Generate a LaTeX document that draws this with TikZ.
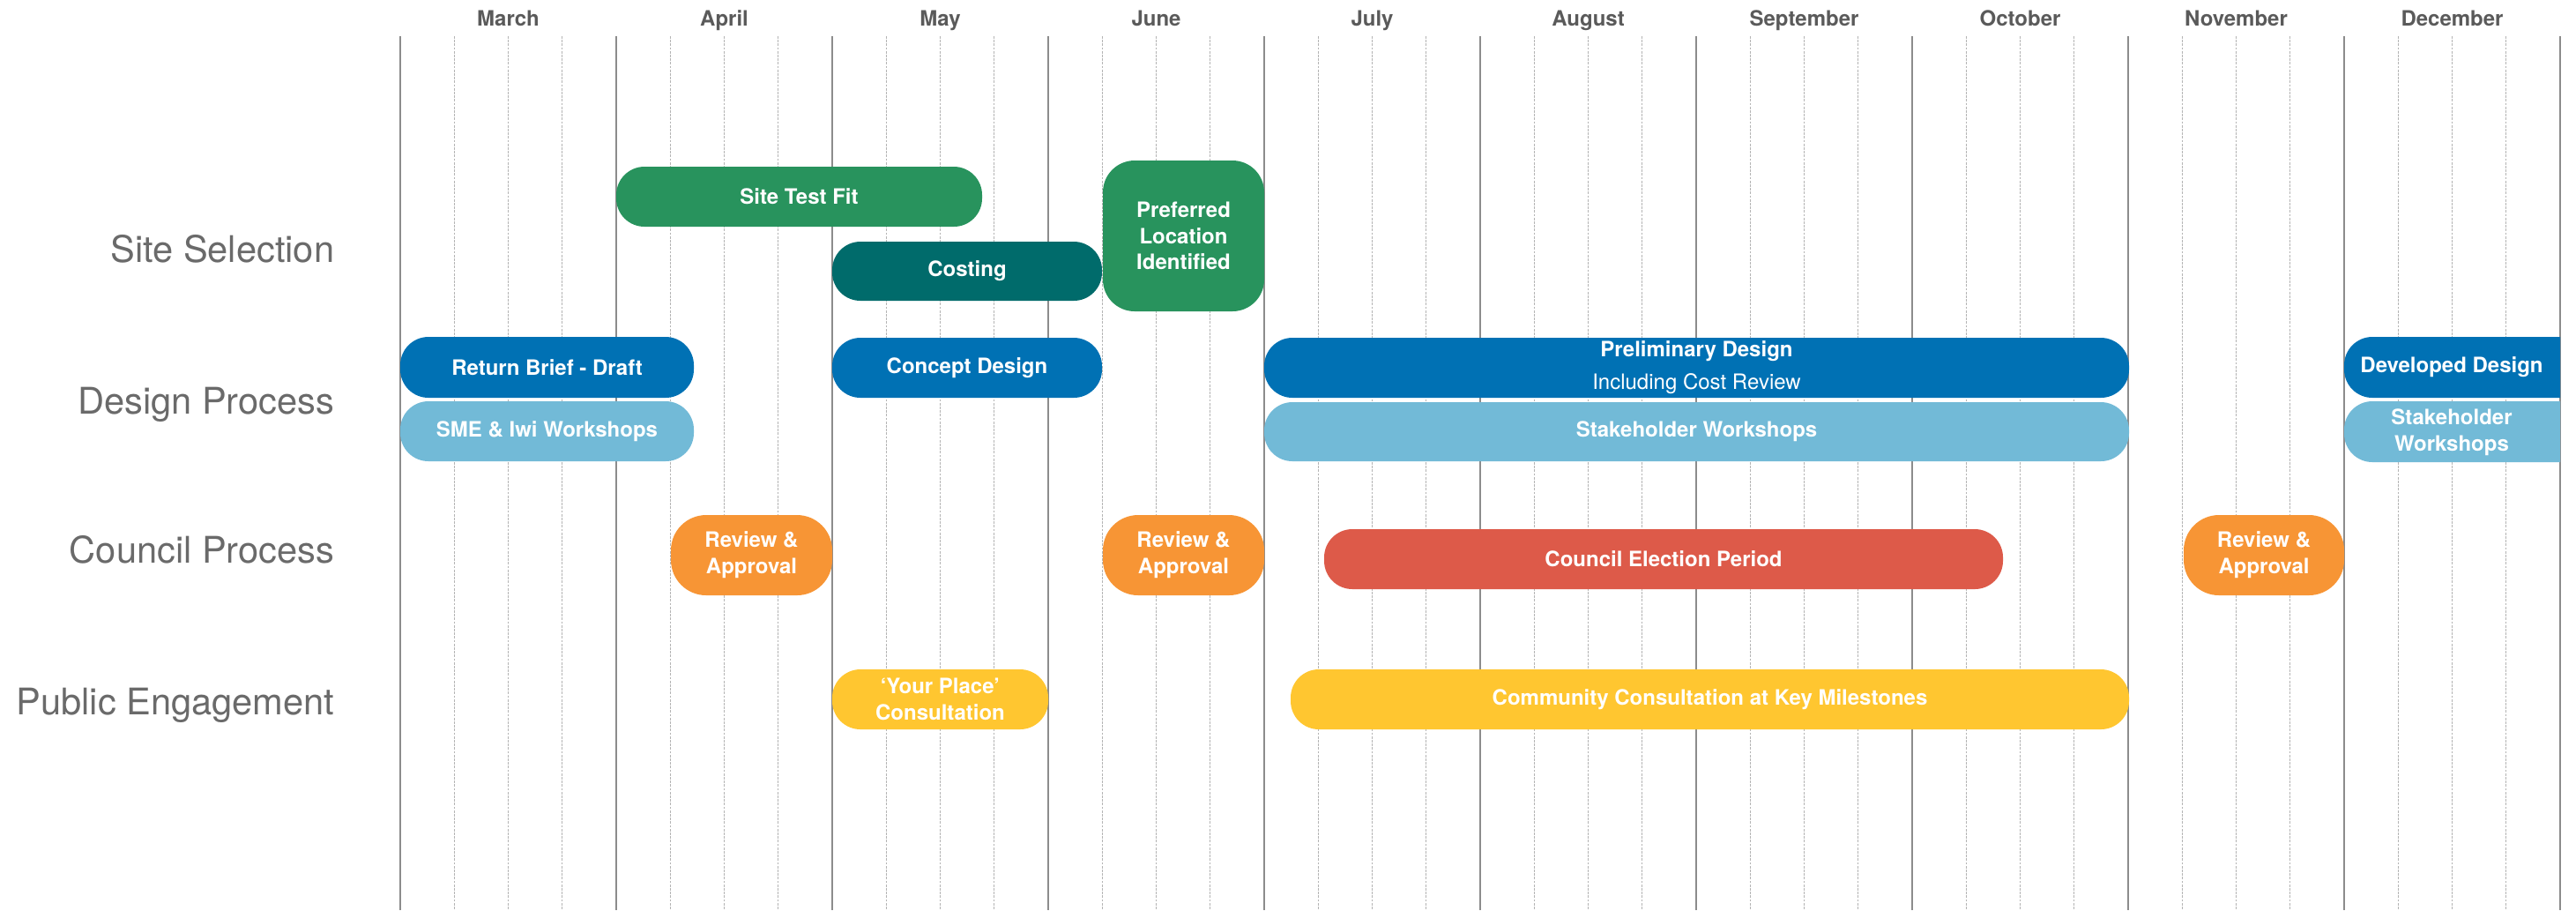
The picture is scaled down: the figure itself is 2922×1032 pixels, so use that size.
\documentclass[tikz,border=0pt]{standalone}
\usepackage{fontspec}
\setmainfont{TeX Gyre Heros}
\definecolor{cgreen}{HTML}{28935D}
\definecolor{cteal}{HTML}{006B6B}
\definecolor{cblue}{HTML}{0071B4}
\definecolor{clblue}{HTML}{72BAD7}
\definecolor{corange}{HTML}{F79535}
\definecolor{cred}{HTML}{DD5A49}
\definecolor{cyellow}{HTML}{FFC630}
\definecolor{cgrid}{HTML}{8C8C8C}
\definecolor{cqgrid}{HTML}{B4B4B4}
\definecolor{clabel}{HTML}{6A6A6A}
\definecolor{cmonth}{HTML}{5A5A5A}
% \gbar{x1}{y1}{x2}{y2}{name}{style}{text}
\newcommand\gbar[7]{\node[#6, minimum width={(#3-#1)*0.25pt}, minimum height={(#4-#2)*0.25pt}]
  (#5) at ({(#1+#3)/2},{(#2+#4)/2}) {#7};}
\begin{document}
\begin{tikzpicture}[x=0.25pt,y=-0.25pt,
  monthline/.style={draw=cgrid, line width=0.35pt},
  qline/.style={draw=cqgrid, line width=0.22pt, dash pattern=on 0.7pt off 0.35pt},
  monthlbl/.style={anchor=base, text=cmonth, font=\fontsize{6}{7}\selectfont\bfseries, inner sep=0pt},
  rowlbl/.style={anchor=base east, text=clabel, font=\fontsize{10.4}{12}\selectfont, inner sep=0pt},
  bar/.style={inner sep=0pt, rounded corners=8pt, text=white, align=center,
    font=\fontsize{6}{7.5}\selectfont\bfseries},
  tallbar/.style={bar, rounded corners=10pt},
  txt/.style={inner sep=0pt, text=white, align=center, font=\fontsize{6}{7.5}\selectfont\bfseries}]
\useasboundingbox (0,0) rectangle (2922,1032);
% grid
\foreach \k in {0,...,9}
  \foreach \q in {1,2,3}
    \draw[qline] ({454+245*\k+61.25*\q},41) -- ({454+245*\k+61.25*\q},1032);
\foreach \k in {0,...,10}
  \draw[monthline] ({454+245*\k},41) -- ({454+245*\k},1032);
% month labels
\foreach \m [count=\i from 0] in {March,April,May,June,July,August,September,October,November,December}
  \node[monthlbl] (m\i) at ({576.5+245*\i},29) {\m};
% row labels
\node[rowlbl] (rsite) at (380,297) {Site Selection};
\node[rowlbl] (rdesign) at (380,469) {Design Process};
\node[rowlbl] (rcouncil) at (380,638.5) {Council Process};
\node[rowlbl] (rpublic) at (380,810) {Public Engagement};
% site selection
\gbar{699}{189}{1114}{257}{stf}{bar, fill=cgreen}{Site Test Fit}
\gbar{944}{274}{1250}{341}{cost}{bar, fill=cteal}{Costing}
\gbar{1251}{182}{1434}{353}{pref}{bar, fill=cgreen, rounded corners=9pt, font=\fontsize{6}{7.4}\selectfont\bfseries}{Preferred\\Location\\Identified}
% design process
\gbar{454}{382}{787}{451}{rbd}{bar, fill=cblue}{Return Brief - Draft}
\gbar{454}{455}{787}{523}{sme}{bar, fill=clblue}{SME \& Iwi Workshops}
\gbar{944}{383}{1250}{451}{cd}{bar, fill=cblue}{Concept Design}
\gbar{1434}{383}{2415}{451}{pd}{bar, fill=cblue, font=\fontsize{6}{7}\selectfont\bfseries}{Preliminary Design\\[2.2pt]{\mdseries Including Cost Review}}
\gbar{1434}{456}{2415}{523}{sw}{bar, fill=clblue}{Stakeholder Workshops}
\begin{scope}
  \clip (2600,370) rectangle (2904,540);
  \fill[cblue, rounded corners=8pt] (2659,382) rectangle (2980,451);
  \fill[clblue, rounded corners=8pt] (2659,455) rectangle (2980,524);
\end{scope}
\node[txt] (dd) at (2781,416.5) {Developed Design};
\node[txt] (sw2) at (2781,490) {Stakeholder\\Workshops};
% council process
\gbar{761}{584}{944}{675}{ra1}{tallbar, fill=corange}{Review \&\\Approval}
\gbar{1251}{584}{1434}{675}{ra2}{tallbar, fill=corange}{Review \&\\Approval}
\gbar{1502}{600}{2272}{668}{cep}{bar, fill=cred}{Council Election Period}
\gbar{2477}{584}{2659}{675}{ra3}{tallbar, fill=corange}{Review \&\\Approval}
% public engagement
\gbar{944}{759}{1189}{827}{yp}{bar, fill=cyellow}{‘Your Place’\\Consultation}
\gbar{1464}{759}{2415}{827}{cc}{bar, fill=cyellow}{Community Consultation at Key Milestones}
\end{tikzpicture}
\end{document}
